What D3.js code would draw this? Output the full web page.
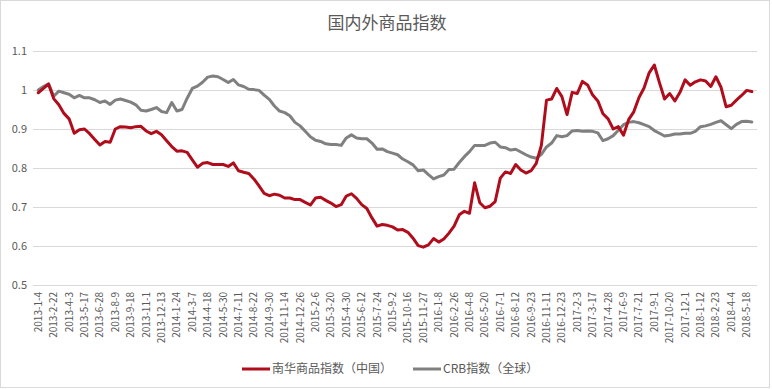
<!DOCTYPE html>
<html>
<head>
<meta charset="utf-8">
<script src="https://cdn.jsdelivr.net/npm/d3@7/dist/d3.min.js"></script>
<style>
  html, body { margin: 0; padding: 0; background: #fff; }
  svg { display: block; }
  text { font-family: "Noto Sans CJK SC", "Noto Sans", sans-serif; }
</style>
</head>
<body>
<svg id="chart" width="772" height="389"></svg>
<script>
const title = "国内外商品指数";
const seriesNames = ["南华商品指数（中国）", "CRB指数（全球）"];

const tickLabels = [
  "2013-1-4","2013-2-22","2013-4-3","2013-5-17","2013-6-28","2013-8-9","2013-9-18","2013-11-1","2013-12-13",
  "2014-1-24","2014-3-7","2014-4-18","2014-5-30","2014-7-11","2014-8-22","2014-9-30","2014-11-14","2014-12-26",
  "2015-2-6","2015-3-20","2015-4-30","2015-6-12","2015-7-24","2015-9-2","2015-10-16","2015-11-27",
  "2016-1-8","2016-2-26","2016-4-8","2016-5-20","2016-7-1","2016-8-12","2016-9-23","2016-11-11","2016-12-23",
  "2017-2-3","2017-3-17","2017-4-28","2017-6-9","2017-7-21","2017-9-1","2017-10-20","2017-12-1",
  "2018-1-12","2018-2-23","2018-4-4","2018-5-18"
];
const tickEvery = 3;

const nanhua = [
  0.993,1.004,1.015,0.978,0.962,0.940,0.926,0.889,0.898,0.900,
  0.888,0.873,0.859,0.868,0.866,0.900,0.906,0.905,0.903,0.906,
  0.907,0.895,0.888,0.894,0.885,0.870,0.855,0.843,0.844,0.840,
  0.821,0.802,0.812,0.814,0.809,0.809,0.809,0.804,0.813,0.793,
  0.789,0.786,0.772,0.754,0.735,0.729,0.733,0.730,0.723,0.723,
  0.719,0.719,0.712,0.705,0.723,0.725,0.717,0.710,0.701,0.706,
  0.728,0.734,0.722,0.706,0.696,0.672,0.651,0.655,0.653,0.649,
  0.641,0.642,0.635,0.620,0.601,0.597,0.603,0.619,0.610,0.618,
  0.633,0.651,0.680,0.689,0.684,0.762,0.711,0.698,0.702,0.714,
  0.774,0.790,0.786,0.809,0.795,0.787,0.793,0.812,0.858,0.974,
  0.977,1.004,0.983,0.937,0.994,0.991,1.022,1.013,0.987,0.972,
  0.939,0.926,0.900,0.906,0.884,0.924,0.944,0.980,1.005,1.044,
  1.064,1.019,0.977,0.991,0.972,0.994,1.026,1.012,1.021,1.026,
  1.023,1.009,1.034,1.007,0.957,0.961,0.974,0.986,0.999,0.996
];

const crb = [
  1.000,1.009,1.016,0.984,0.997,0.993,0.989,0.980,0.986,0.980,
  0.980,0.975,0.968,0.972,0.963,0.974,0.977,0.973,0.969,0.962,
  0.948,0.946,0.950,0.955,0.945,0.942,0.968,0.946,0.950,0.979,
  1.004,1.010,1.020,1.033,1.036,1.034,1.027,1.019,1.027,1.013,
  1.009,1.002,1.001,0.999,0.987,0.976,0.959,0.946,0.942,0.934,
  0.917,0.908,0.894,0.880,0.871,0.868,0.862,0.860,0.860,0.858,
  0.877,0.885,0.877,0.875,0.875,0.864,0.848,0.849,0.842,0.838,
  0.834,0.823,0.816,0.808,0.793,0.795,0.783,0.772,0.778,0.782,
  0.796,0.797,0.814,0.829,0.842,0.858,0.858,0.858,0.864,0.866,
  0.854,0.852,0.846,0.848,0.841,0.834,0.828,0.825,0.835,0.854,
  0.864,0.883,0.880,0.883,0.895,0.896,0.894,0.895,0.894,0.890,
  0.870,0.875,0.883,0.897,0.911,0.917,0.919,0.916,0.911,0.906,
  0.896,0.889,0.882,0.884,0.887,0.887,0.889,0.889,0.894,0.906,
  0.908,0.912,0.917,0.921,0.911,0.901,0.912,0.919,0.920,0.918
];

const categories = nanhua.map((d, i) => i);
const yTicks = [0.5, 0.6, 0.7, 0.8, 0.9, 1.0, 1.1];
const yTickLabels = ["0.5", "0.6", "0.7", "0.8", "0.9", "1", "1.1"];
const colors = ["#B00D1C", "#808080"];

const svg = d3.select("#chart");
const W = 772, H = 389;
const plot = { left: 33, right: 757, top: 51, bottom: 285 };

svg.append("rect").attr("x", 0.5).attr("y", 0.5).attr("width", W - 3).attr("height", H - 2)
  .attr("fill", "#fff").attr("stroke", "#D9D9D9");

const firstX = 38.3, labelStep = 15.4;
const x = d3.scalePoint().domain(categories)
  .range([firstX, firstX + (categories.length - 1) * labelStep / tickEvery]);
const y = d3.scaleLinear().domain([0.5, 1.1]).range([plot.bottom, plot.top]);

// gridlines
svg.append("g").selectAll("line").data(yTicks).join("line")
  .attr("x1", plot.left).attr("x2", plot.right)
  .attr("y1", d => Math.round(y(d)) + 0.5).attr("y2", d => Math.round(y(d)) + 0.5)
  .attr("stroke", "#D9D9D9").attr("stroke-width", 1);

// y labels
svg.append("g").selectAll("text").data(yTicks).join("text")
  .attr("x", 27).attr("y", d => y(d)).attr("dy", "0.35em")
  .attr("text-anchor", "end").attr("font-size", 11).attr("fill", "#595959")
  .text((d, i) => yTickLabels[i]);

// x labels
svg.append("g").selectAll("text").data(tickLabels).join("text")
  .attr("transform", (d, i) => `translate(${x(categories[i * tickEvery])},${plot.bottom + 7}) rotate(-90)`)
  .attr("dy", "0.35em").attr("text-anchor", "end")
  .attr("font-size", 10).attr("fill", "#595959")
  .text(d => d);

// lines
const line = d3.line().x((d, i) => x(categories[i])).y(d => y(d));
[crb, nanhua].forEach((s, k) => {
  const idx = 1 - k;
  svg.append("path").datum(s)
    .attr("d", line).attr("fill", "none")
    .attr("stroke", colors[idx]).attr("stroke-width", 3)
    .attr("stroke-linejoin", "round").attr("stroke-linecap", "round");
});

// title
svg.append("text").attr("x", 387).attr("y", 29).attr("text-anchor", "middle")
  .attr("font-size", 17).attr("fill", "#595959").text(title);

// legend
const legendItems = [
  { x: 242, name: seriesNames[0], color: colors[0] },
  { x: 413, name: seriesNames[1], color: colors[1] }
];
const lg = svg.append("g");
legendItems.forEach(it => {
  lg.append("line").attr("x1", it.x).attr("x2", it.x + 28).attr("y1", 369).attr("y2", 369)
    .attr("stroke", it.color).attr("stroke-width", 3);
  lg.append("text").attr("x", it.x + 30).attr("y", 369).attr("dy", "0.35em")
    .attr("font-size", 12).attr("fill", "#595959").text(it.name);
});
</script>
</body>
</html>
